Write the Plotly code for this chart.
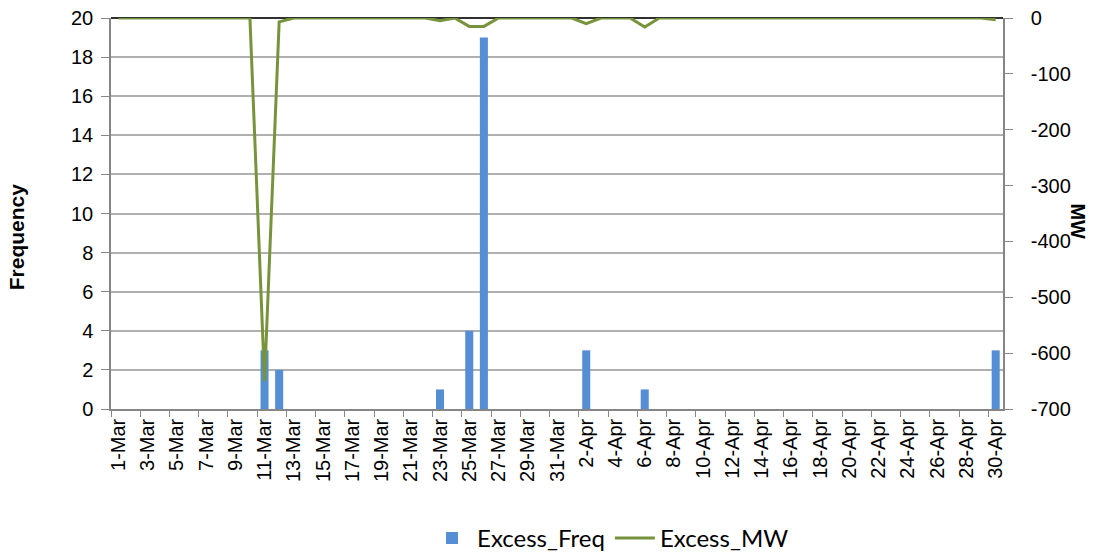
import plotly.graph_objects as go

# Categories: 1-Mar .. 30-Apr
dates = [f"{d}-Mar" for d in range(1, 32)] + [f"{d}-Apr" for d in range(1, 31)]

# Excess frequency (count) per day
excess_freq = [0, 0, 0, 0, 0, 0, 0, 0, 0, 0,   # 1-10 Mar
               3, 2, 0, 0, 0, 0, 0, 0, 0, 0,   # 11-20 Mar
               0, 0, 1, 0, 4, 19, 0, 0, 0, 0,  # 21-30 Mar
               0,                               # 31 Mar
               0, 3, 0, 0, 0, 1, 0, 0, 0, 0,   # 1-10 Apr
               0, 0, 0, 0, 0, 0, 0, 0, 0, 0,   # 11-20 Apr
               0, 0, 0, 0, 0, 0, 0, 0, 0, 3]   # 21-30 Apr

# Excess MW per day
excess_mw = [0, 0, 0, 0, 0, 0, 0, 0, 0, 0,
             -650, -7, 0, 0, 0, 0, 0, 0, 0, 0,
             0, 0, -5, 0, -15, -15, 0, 0, 0, 0,
             0,
             0, -10, 0, 0, 0, -16, 0, 0, 0, 0,
             0, 0, 0, 0, 0, 0, 0, 0, 0, 0,
             0, 0, 0, 0, 0, 0, 0, 0, 0, -3]

# Right-axis tick values and labels
mw_ticks = [0, -100, -200, -300, -400, -500, -600, -700]
mw_labels = ["0", "-100", "-200", "-300", "-400", "-500", "-600", "-700"]

AX = "#868686"
GRID = "#b0b0b0"
FONT = "Liberation Sans, Arial, sans-serif"
TICKFONT = dict(family=FONT, size=20, color="#000000")

fig = go.Figure()
fig.add_trace(go.Bar(x=dates, y=excess_freq, name="Excess_Freq",
                     marker=dict(color="#558ed5", line=dict(width=0)), yaxis="y"))
fig.add_trace(go.Scatter(x=dates, y=excess_mw, name="Excess_MW", mode="lines",
                         line=dict(color="#77933c", width=3), yaxis="y2"))

fig.update_layout(
    width=1093, height=555,
    margin=dict(l=111, r=90, t=18, b=146, autoexpand=False),
    paper_bgcolor="white", plot_bgcolor="white",
    bargap=0.45,
    showlegend=True,
    legend=dict(orientation="h", x=0.56, xanchor="center",
                yref="container", y=0.03, yanchor="middle",
                font=dict(family="Lato, Carlito, sans-serif", size=24, color="#000000"),
                itemwidth=40, tracegroupgap=0),
    xaxis=dict(type="category", tickmode="linear", tick0=0, dtick=2, tickangle=-90,
               tickson="boundaries", ticks="outside", ticklen=6, tickcolor=AX,
               showline=True, linecolor=AX, linewidth=1.5, showgrid=False,
               tickfont=TICKFONT, range=[-0.5, 60.5], automargin=False),
    yaxis=dict(range=[0, 20], dtick=2, showgrid=True, gridcolor=GRID, gridwidth=1.5,
               ticks="outside", ticklen=8, tickcolor=AX, showline=True, linecolor=AX,
               linewidth=1.5, zeroline=False, tickfont=TICKFONT, ticklabelstandoff=4,
               automargin=False),
    yaxis2=dict(range=[-700, 0], tickmode="array", tickvals=mw_ticks, ticktext=mw_labels,
                overlaying="y", side="right",
                showgrid=False, ticks="outside", ticklen=8, tickcolor=AX,
                showline=True, linecolor=AX, linewidth=1.5,
                zeroline=True, zerolinecolor="#303030", zerolinewidth=1.5,
                tickfont=TICKFONT, ticklabelstandoff=14, automargin=False),
    annotations=[
        dict(text="<b>Frequency</b>", xref="paper", yref="paper", x=-0.105, y=0.44,
             xanchor="center", yanchor="middle", textangle=-90, showarrow=False,
             font=dict(family=FONT, size=21, color="#000")),
        dict(text="<b>MW</b>", xref="paper", yref="paper", x=1.084, y=0.48,
             xanchor="center", yanchor="middle", textangle=90, showarrow=False,
             font=dict(family=FONT, size=20, color="#000")),
    ],
)

fig.write_html("out.html",
               config={"displayModeBar": False},
               post_script="document.body.style.margin='0';document.body.style.overflow='hidden';")
